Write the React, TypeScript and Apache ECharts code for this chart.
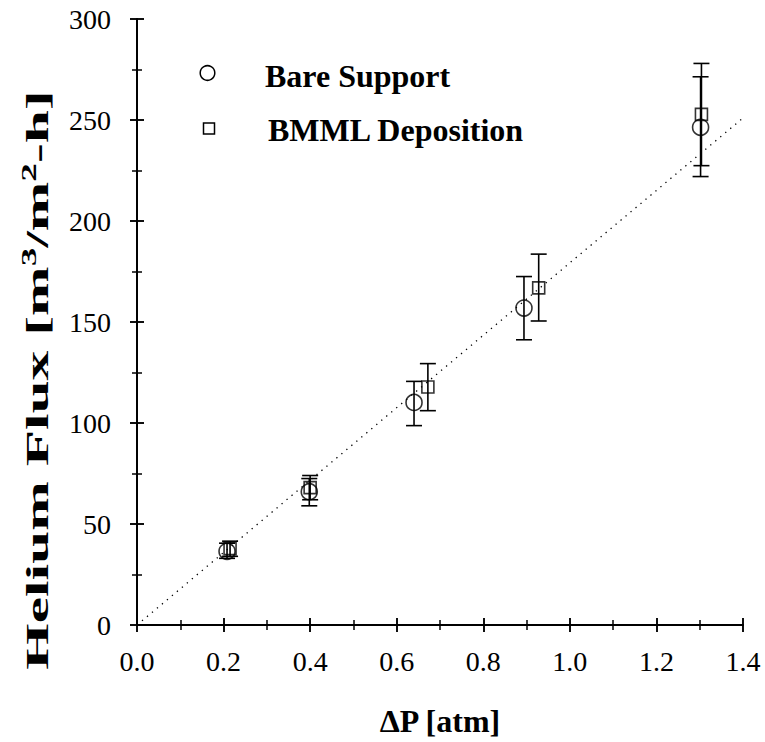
import React, { useEffect, useRef } from "react";
import * as echarts from "echarts";

const xTickLabels = ["0.0", "0.2", "0.4", "0.6", "0.8", "1.0", "1.2", "1.4"];
const yTickLabels = ["0", "50", "100", "150", "200", "250", "300"];

const pressureBare = [0.208, 0.398, 0.64, 0.894, 1.302];
const fluxBare = [36.5, 66, 110.2, 156.9, 246.4];
const bareLow = [33, 59, 98.7, 141.2, 222];
const bareHigh = [40.5, 72.5, 120.6, 172.5, 271.4];

const pressureBmml = [0.215, 0.4, 0.672, 0.928, 1.304];
const fluxBmml = [37.8, 68, 117.8, 166.9, 252.8];
const bmmlLow = [34, 62, 106.1, 150.5, 227.4];
const bmmlHigh = [41.5, 74, 129.4, 183.6, 278];

const fitX = [0, 1.4];
const fitY = [0, 251];

const legendNames = ["Bare Support", "BMML Deposition"];
const xTitle = "ΔP [atm]";
const yTitle = "Helium Flux [m{sup|3}/m{sup|2}-h]";

const FONT = "'Liberation Serif', 'Times New Roman', serif";

function errorBarSeries(xs: number[], lo: number[], hi: number[]) {
  return {
    type: "custom",
    xAxisIndex: 0,
    yAxisIndex: 0,
    silent: true,
    z: 3,
    data: xs.map((x, i) => [x, lo[i], hi[i]]),
    renderItem: (params: any, api: any) => {
      const x = api.value(0);
      const pLo = api.coord([x, api.value(1)]);
      const pHi = api.coord([x, api.value(2)]);
      const w = 8;
      const style = { stroke: "#000", lineWidth: 1.6 };
      return {
        type: "group",
        children: [
          { type: "line", shape: { x1: pLo[0], y1: pLo[1], x2: pHi[0], y2: pHi[1] }, style },
          { type: "line", shape: { x1: pLo[0] - w, y1: pLo[1], x2: pLo[0] + w, y2: pLo[1] }, style },
          { type: "line", shape: { x1: pHi[0] - w, y1: pHi[1], x2: pHi[0] + w, y2: pHi[1] }, style },
        ],
      };
    },
  };
}

export default function App() {
  const ref = useRef<HTMLDivElement>(null);
  useEffect(() => {
    if (!ref.current) return;
    const chart = echarts.init(ref.current, null, { renderer: "svg" });
    const axisLine = { show: true, lineStyle: { color: "#000", width: 1.5 } };
    const tickStyle = { color: "#000", width: 1.5 };
    const xBase = { type: "value", min: 0, max: 1.4, interval: 0.2, axisLine, splitLine: { show: false } };
    const yBase = { type: "value", min: 0, max: 300, interval: 50, axisLine, splitLine: { show: false } };
    const hidden = { show: false };
    const option: any = {
      animation: false,
      backgroundColor: "#fff",
      grid: { left: 137, right: 22, top: 19, bottom: 116, containLabel: false },
      xAxis: [
        {
          ...xBase,
          position: "bottom",
          axisTick: { show: true, inside: false, length: 7, lineStyle: tickStyle },
          axisLabel: {
            show: true,
            margin: 22,
            color: "#000",
            fontSize: 28,
            fontFamily: FONT,
            formatter: (v: number) => xTickLabels[Math.round(v / 0.2)],
          },
          name: xTitle,
          nameLocation: "middle",
          nameGap: 80,
          nameTextStyle: { color: "#000", fontSize: 32, fontWeight: "bold", fontFamily: FONT },
        },
        {
          ...xBase,
          position: "bottom",
          axisTick: { show: true, inside: true, length: 7, lineStyle: tickStyle },
          minorTick: { show: true, splitNumber: 2, length: 5, lineStyle: tickStyle },
          axisLabel: hidden,
        },
        {
          ...xBase,
          position: "top",
          axisTick: { show: true, inside: false, length: 7, lineStyle: tickStyle },
          axisLabel: hidden,
        },
        {
          ...xBase,
          position: "top",
          axisTick: { show: true, inside: true, length: 7, lineStyle: tickStyle },
          minorTick: { show: true, splitNumber: 2, length: 5, lineStyle: tickStyle },
          axisLabel: hidden,
        },
      ],
      yAxis: [
        {
          ...yBase,
          position: "left",
          axisTick: { show: true, inside: false, length: 7, lineStyle: tickStyle },
          axisLabel: {
            show: true,
            margin: 26,
            color: "#000",
            fontSize: 28,
            fontFamily: FONT,
            formatter: (v: number) => yTickLabels[Math.round(v / 50)],
          },
        },
        {
          ...yBase,
          position: "left",
          axisTick: { show: true, inside: true, length: 7, lineStyle: tickStyle },
          minorTick: { show: true, splitNumber: 2, length: 5, lineStyle: tickStyle },
          axisLabel: hidden,
        },
        {
          ...yBase,
          position: "right",
          axisTick: { show: true, inside: false, length: 7, lineStyle: tickStyle },
          axisLabel: hidden,
        },
        {
          ...yBase,
          position: "right",
          axisTick: { show: true, inside: true, length: 7, lineStyle: tickStyle },
          minorTick: { show: true, splitNumber: 2, length: 5, lineStyle: tickStyle },
          axisLabel: hidden,
        },
      ],
      graphic: [
        {
          type: "text",
          x: 37,
          y: 380,
          rotation: Math.PI / 2,
          scaleX: 1.86,
          style: {
            text: yTitle,
            fontSize: 32,
            fontWeight: "bold",
            fontFamily: FONT,
            fill: "#000",
            align: "center",
            verticalAlign: "middle",
            rich: {
              sup: { fontSize: 20, fontWeight: "bold", fontFamily: FONT, fill: "#000", padding: [0, 0, 16, 0] },
            },
          },
        },
        { type: "circle", shape: { cx: 207.5, cy: 73, r: 7.3 }, style: { fill: "none", stroke: "#000", lineWidth: 1.5 } },
        {
          type: "text",
          x: 265,
          y: 76,
          style: { text: legendNames[0], fontSize: 32, fontWeight: "bold", fontFamily: FONT, fill: "#000", verticalAlign: "middle" },
        },
        { type: "rect", shape: { x: 203.5, y: 123, width: 11, height: 11 }, style: { fill: "none", stroke: "#000", lineWidth: 1.5 } },
        {
          type: "text",
          x: 268,
          y: 130,
          style: { text: legendNames[1], fontSize: 32, fontWeight: "bold", fontFamily: FONT, fill: "#000", verticalAlign: "middle" },
        },
      ],
      series: [
        {
          type: "line",
          name: "fit",
          xAxisIndex: 0,
          yAxisIndex: 0,
          data: fitX.map((x, i) => [x, fitY[i]]),
          symbol: "none",
          lineStyle: { color: "#000", width: 1.3, type: [1.3, 5.2] },
          z: 1,
        },
        errorBarSeries(pressureBare, bareLow, bareHigh),
        errorBarSeries(pressureBmml, bmmlLow, bmmlHigh),
        {
          type: "scatter",
          name: legendNames[0],
          xAxisIndex: 0,
          yAxisIndex: 0,
          data: pressureBare.map((x, i) => [x, fluxBare[i]]),
          symbol: "circle",
          symbolSize: 16,
          itemStyle: { color: "transparent", borderColor: "#000", borderWidth: 1.6 },
          z: 4,
        },
        {
          type: "scatter",
          name: legendNames[1],
          xAxisIndex: 0,
          yAxisIndex: 0,
          data: pressureBmml.map((x, i) => [x, fluxBmml[i]]),
          symbol: "rect",
          symbolSize: 12,
          itemStyle: { color: "transparent", borderColor: "#000", borderWidth: 1.6 },
          z: 4,
        },
      ],
    };
    chart.setOption(option);
    return () => chart.dispose();
  }, []);
  return <div ref={ref} style={{ position: "fixed", left: 0, top: 0, width: 765, height: 742 }} />;
}
